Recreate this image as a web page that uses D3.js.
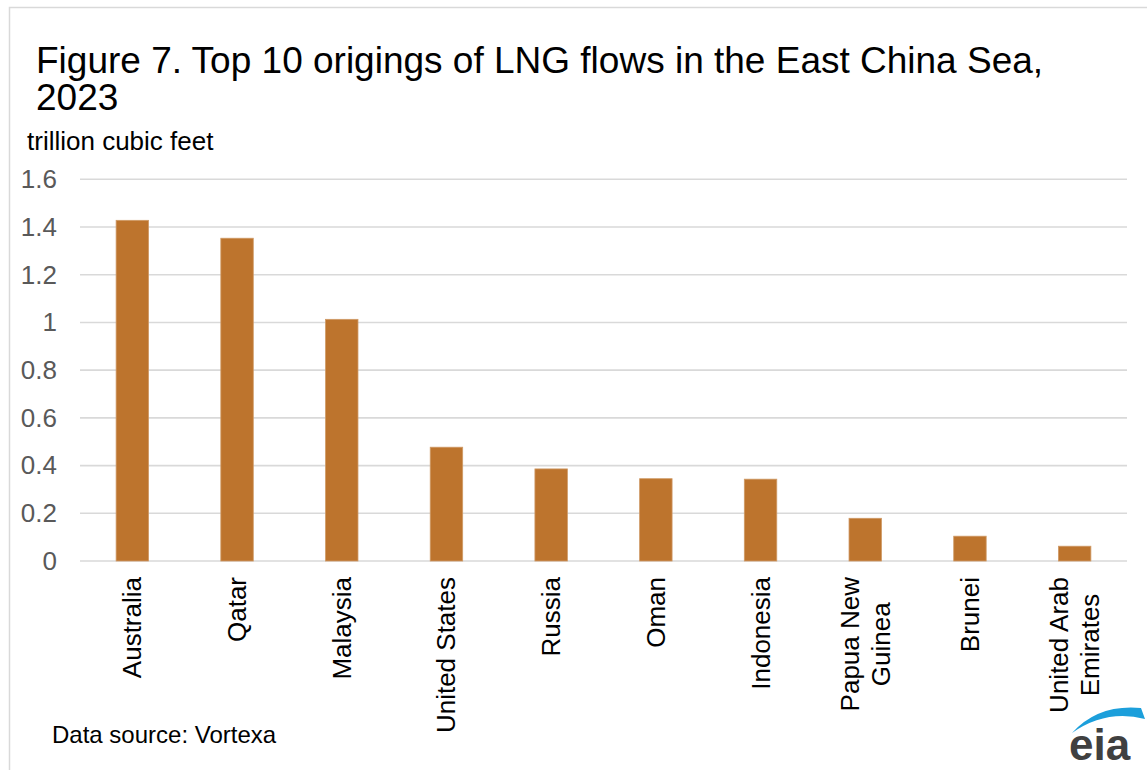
<!DOCTYPE html>
<html>
<head>
<meta charset="utf-8">
<script src="https://cdn.jsdelivr.net/npm/d3@7"></script>
<style>
  html, body { margin: 0; padding: 0; background: #fff; }
  svg { display: block; font-family: "Liberation Sans", Arial, sans-serif; }
</style>
</head>
<body>
<svg id="chart" width="1147" height="770"></svg>
<script>
const categories = ["Australia", "Qatar", "Malaysia", "United States", "Russia", "Oman", "Indonesia", "Papua New\nGuinea", "Brunei", "United Arab\nEmirates"];
const values = [1.428, 1.353, 1.013, 0.477, 0.386, 0.345, 0.343, 0.179, 0.104, 0.062];
const yTicks = [0, 0.2, 0.4, 0.6, 0.8, 1, 1.2, 1.4, 1.6];
const titleLines = ["Figure 7. Top 10 origings of LNG flows in the East China Sea,", "2023"];
const unitsLabel = "trillion cubic feet";
const sourceLabel = "Data source: Vortexa";

const svg = d3.select("#chart");

// frame
svg.append("path")
  .attr("d", "M9.5,770 L9.5,7.5 L1147,7.5")
  .attr("fill", "none").attr("stroke", "#d9d9d9").attr("stroke-width", 1.5);

const x = d3.scaleBand().domain(categories).range([80, 1127]).paddingInner(0.69).paddingOuter(0.345);
const y = d3.scaleLinear().domain([0, 1.6]).range([561, 179.3]);

// gridlines
svg.append("g").selectAll("line").data(yTicks).join("line")
  .attr("x1", 80).attr("x2", 1127)
  .attr("y1", d => y(d)).attr("y2", d => y(d))
  .attr("stroke", "#d9d9d9").attr("stroke-width", 1.6);

// y axis labels
const yAxis = d3.axisLeft(y).tickValues(yTicks).tickSize(0).tickPadding(0).tickFormat(d3.format("~g"));
const ya = svg.append("g").attr("transform", "translate(57,0)").call(yAxis);
ya.select(".domain").remove();
ya.selectAll("text").attr("fill", "#595959").attr("font-size", 26).attr("font-family", "Liberation Sans, Arial, sans-serif");

// bars
svg.append("g").selectAll("rect").data(values).join("rect")
  .attr("x", (d, i) => x(categories[i]))
  .attr("width", x.bandwidth())
  .attr("y", d => y(d))
  .attr("height", d => y(0) - y(d))
  .attr("fill", "#bd742d")
  .attr("stroke", "#cf9a66").attr("stroke-width", 0.8);

// category labels
const lh = 31;
categories.forEach(c => {
  const lines = c.split("\n");
  const g = svg.append("g");
  const texts = lines.map((l, i) => g.append("text")
    .text(l).attr("font-size", 26).attr("fill", "#000")
    .attr("text-anchor", "middle").attr("dominant-baseline", "central")
    .attr("x", 0).attr("y", (i - (lines.length - 1) / 2) * lh));
  const maxW = d3.max(texts, t => t.node().getComputedTextLength());
  g.attr("transform", `translate(${x(c) + x.bandwidth() / 2},${577 + maxW / 2}) rotate(-90)`);
});

// title
svg.append("g").selectAll("text").data(titleLines).join("text")
  .attr("x", 36).attr("y", (d, i) => 73 + i * 37)
  .attr("font-size", 37).attr("fill", "#000").text(d => d);

svg.append("text").attr("x", 27).attr("y", 150).attr("font-size", 26).attr("fill", "#000").text(unitsLabel);
svg.append("text").attr("x", 52).attr("y", 743).attr("font-size", 24).attr("fill", "#000").text(sourceLabel);

// eia logo
svg.append("path")
  .attr("d", "M1072,733 Q1098,704 1141,708 L1145,719 Q1106,709 1072,733 Z")
  .attr("fill", "#1c9fdb");
svg.append("text").attr("x", 1069).attr("y", 760).attr("font-size", 44).attr("font-weight", "bold")
  .attr("fill", "#404040").text("eia");
</script>
</body>
</html>
